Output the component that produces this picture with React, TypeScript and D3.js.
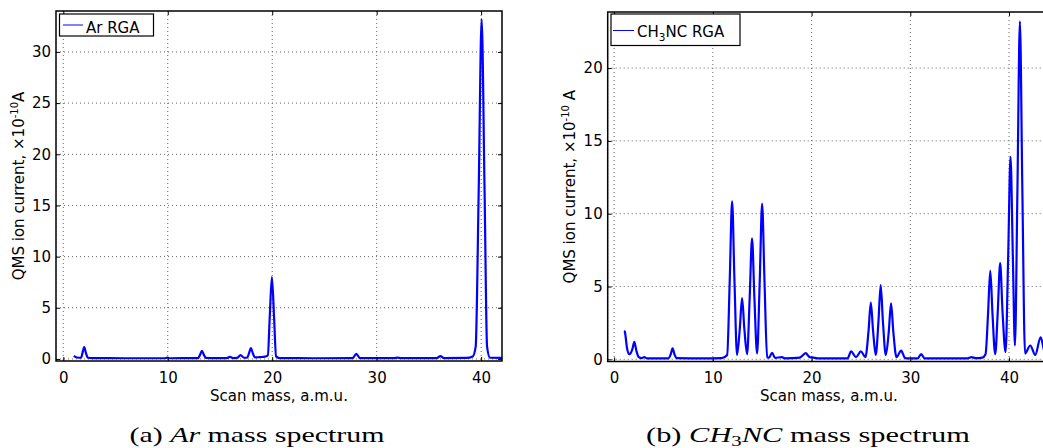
import React, { useEffect, useRef } from "react";
import * as d3 from "d3";

// [mass (a.m.u.), ion current (x1e-10 A)]
const arSpectrum = [
  [1.0, 0.3], [1.3, 0.14], [1.7, 0.12], [1.84, 0.6], [2.0, 1.15], [2.16, 0.6], [2.35, 0.12], [2.7, 0.08],
  [6.0, 0.07], [9.7, 0.07], [9.95, 0.13], [10.2, 0.07], [12.9, 0.08], [13.09, 0.4], [13.27, 0.78],
  [13.46, 0.4], [13.65, 0.1], [14.5, 0.08], [15.65, 0.08], [15.95, 0.2], [16.25, 0.09], [16.65, 0.1],
  [16.97, 0.38], [17.3, 0.12], [17.6, 0.13], [17.79, 0.6], [17.96, 1.05], [18.13, 0.6], [18.35, 0.15],
  [18.8, 0.18], [19.3, 0.22], [19.58, 0.35], [19.76, 4.0], [19.97, 8.0], [20.18, 4.0], [20.37, 0.25],
  [20.7, 0.08], [24.0, 0.07], [27.7, 0.08], [28.05, 0.5], [28.4, 0.08], [31.7, 0.08], [32.0, 0.13],
  [32.3, 0.08], [35.75, 0.08], [36.1, 0.28], [36.45, 0.08], [38.6, 0.1], [39.2, 0.25], [39.48, 1.2],
  [39.77, 16.5], [40.05, 33.2], [40.33, 16.5], [40.57, 1.2], [40.85, 0.12], [42.2, 0.1],
];

const ch3ncSpectrum = [
  [1.0, 1.95], [1.08, 1.9], [1.3, 0.8], [1.55, 0.35], [1.85, 0.7], [2.05, 1.2], [2.25, 0.6], [2.5, 0.15],
  [2.8, 0.08], [3.05, 0.15], [3.3, 0.07], [5.5, 0.07], [5.74, 0.35], [5.92, 0.75], [6.11, 0.35], [6.35, 0.08],
  [9.0, 0.06], [10.9, 0.08], [11.45, 0.3], [11.71, 5.4], [11.95, 10.85], [12.19, 5.4], [12.45, 0.3],
  [12.73, 2.1], [12.96, 4.2], [13.19, 2.1], [13.47, 0.35], [13.73, 4.2], [13.97, 8.3], [14.21, 4.2],
  [14.48, 0.4], [14.75, 5.4], [14.99, 10.7], [15.23, 5.4], [15.5, 0.15], [15.7, 0.12], [16.0, 0.45],
  [16.3, 0.1], [17.0, 0.15], [17.3, 0.07], [18.0, 0.08], [18.8, 0.12], [19.4, 0.42], [19.8, 0.15],
  [20.2, 0.12], [20.6, 0.07], [23.65, 0.07], [24.0, 0.55], [24.5, 0.15], [25.0, 0.55], [25.45, 0.15],
  [25.77, 1.95], [26.0, 3.9], [26.23, 1.95], [26.5, 0.3], [26.77, 2.55], [27.0, 5.1], [27.23, 2.55],
  [27.52, 0.3], [27.82, 1.9], [28.05, 3.85], [28.28, 1.9], [28.6, 0.15], [29.07, 0.6], [29.45, 0.1],
  [29.8, 0.06], [30.75, 0.06], [31.1, 0.35], [31.45, 0.06], [35.8, 0.07], [36.2, 0.15], [36.6, 0.08],
  [37.3, 0.12], [37.62, 0.35], [37.87, 3.05], [38.1, 6.1], [38.33, 3.05], [38.6, 0.35], [38.86, 3.3],
  [39.1, 6.6], [39.34, 3.3], [39.65, 0.5], [39.91, 6.95], [40.15, 13.9], [40.39, 6.95], [40.6, 0.95],
  [40.85, 11.6], [41.1, 23.2], [41.35, 11.6], [41.62, 0.4], [42.15, 0.95], [42.65, 0.3], [43.2, 1.5],
  [43.6, 0.5], [44.2, 0.1],
];

const massTicks = [0, 10, 20, 30, 40];
const arTicks = [0, 5, 10, 15, 20, 25, 30];
const ch3ncTicks = [0, 5, 10, 15, 20];

const SANS = "'DejaVu Sans', sans-serif";
const SERIF = "'Liberation Serif', 'DejaVu Serif', serif";
const BLUE = "#0000ff";

function drawPanel(svg, p) {
  const x = d3.scaleLinear().domain(p.xDomain).range([p.left, p.right]);
  const y = d3.scaleLinear().domain(p.yDomain).range([p.bottom, p.top]);
  const g = svg.append("g");

  g.append("clipPath")
    .attr("id", p.id)
    .append("rect")
    .attr("x", p.left)
    .attr("y", p.top)
    .attr("width", p.right - p.left)
    .attr("height", p.bottom - p.top);

  // dotted grid
  g.append("g")
    .selectAll("line")
    .data(massTicks)
    .join("line")
    .attr("x1", (d) => x(d))
    .attr("x2", (d) => x(d))
    .attr("y1", p.top)
    .attr("y2", p.bottom)
    .attr("stroke", "#666")
    .attr("stroke-dasharray", "1,3");
  g.append("g")
    .selectAll("line")
    .data(p.yTicks)
    .join("line")
    .attr("x1", p.left)
    .attr("x2", p.right)
    .attr("y1", (d) => y(d))
    .attr("y2", (d) => y(d))
    .attr("stroke", "#666")
    .attr("stroke-dasharray", "1,3");

  const line = d3
    .line()
    .x((d) => x(d[0]))
    .y((d) => y(d[1]))
    .curve(d3.curveMonotoneX);

  g.append("path")
    .attr("d", line(p.data))
    .attr("fill", "none")
    .attr("stroke", BLUE)
    .attr("stroke-width", 2.2)
    .attr("stroke-linejoin", "round")
    .attr("clip-path", `url(#${p.id})`);

  // axes, ticks pointing inward on all four sides
  const styleAxis = (a) => {
    a.select(".domain").remove();
    a.attr("font-family", SANS).attr("font-size", 15);
    a.selectAll("line").attr("stroke", "#000").attr("stroke-width", 1);
    a.selectAll("text").attr("fill", "#000");
  };
  g.append("g")
    .attr("transform", `translate(0,${p.bottom})`)
    .call(d3.axisBottom(x).tickValues(massTicks).tickSizeInner(-4).tickSizeOuter(0).tickPadding(11))
    .call(styleAxis);
  g.append("g")
    .attr("transform", `translate(0,${p.top})`)
    .call(d3.axisTop(x).tickValues(massTicks).tickSizeInner(-4).tickSizeOuter(0).tickFormat(() => ""))
    .call(styleAxis);
  g.append("g")
    .attr("transform", `translate(${p.left},0)`)
    .call(d3.axisLeft(y).tickValues(p.yTicks).tickSizeInner(-4).tickSizeOuter(0).tickPadding(5))
    .call(styleAxis);
  g.append("g")
    .attr("transform", `translate(${p.right},0)`)
    .call(d3.axisRight(y).tickValues(p.yTicks).tickSizeInner(-4).tickSizeOuter(0).tickFormat(() => ""))
    .call(styleAxis);

  g.append("rect")
    .attr("x", p.left)
    .attr("y", p.top)
    .attr("width", p.right - p.left)
    .attr("height", p.bottom - p.top)
    .attr("fill", "none")
    .attr("stroke", "#000")
    .attr("stroke-width", 1.5);

  // x label
  g.append("text")
    .attr("x", (p.left + p.right) / 2)
    .attr("y", 401)
    .attr("text-anchor", "middle")
    .attr("font-family", SANS)
    .attr("font-size", 15)
    .text("Scan mass, a.m.u.");

  // y label
  const yl = g
    .append("text")
    .attr("transform", `translate(${p.yLabelX},${(p.top + p.bottom) / 2}) rotate(-90)`)
    .attr("text-anchor", "middle")
    .attr("font-family", SANS)
    .attr("font-size", 15);
  yl.append("tspan").text("QMS ion current, \u00d710");
  yl.append("tspan").attr("dy", -6).attr("font-size", 10).text("-10");
  yl.append("tspan").attr("dy", 6).text(p.yUnit);

  return g;
}

const App = () => {
  const svgRef = useRef(null);

  useEffect(() => {
    const svg = d3.select(svgRef.current);
    svg.selectAll("*").remove();

    drawPanel(svg, {
      id: "clip-ar",
      left: 56,
      right: 502,
      top: 11,
      bottom: 361,
      xDomain: [-0.7, 42],
      yDomain: [-0.2, 34],
      yTicks: arTicks,
      data: arSpectrum,
      yLabelX: 24,
      yUnit: "A",
    });

    drawPanel(svg, {
      id: "clip-ch3nc",
      left: 607.7,
      right: 1050,
      top: 12,
      bottom: 361.5,
      xDomain: [-0.65, 44.15],
      yDomain: [-0.15, 23.85],
      yTicks: ch3ncTicks,
      data: ch3ncSpectrum,
      yLabelX: 575,
      yUnit: " A",
    });

    // legends
    svg.append("rect")
      .attr("x", 59.5).attr("y", 14).attr("width", 94).attr("height", 22)
      .attr("fill", "#fff").attr("stroke", "#000").attr("stroke-width", 1.2);
    svg.append("line")
      .attr("x1", 63).attr("x2", 83).attr("y1", 25).attr("y2", 25)
      .attr("stroke", BLUE).attr("stroke-width", 1);
    svg.append("text")
      .attr("x", 86).attr("y", 33)
      .attr("font-family", SANS).attr("font-size", 15)
      .text("Ar RGA");

    svg.append("rect")
      .attr("x", 611).attr("y", 14).attr("width", 129).attr("height", 31.5)
      .attr("fill", "#fff").attr("stroke", "#000").attr("stroke-width", 1.2);
    svg.append("line")
      .attr("x1", 613).attr("x2", 634).attr("y1", 30.5).attr("y2", 30.5)
      .attr("stroke", BLUE).attr("stroke-width", 1);
    const lt = svg.append("text")
      .attr("x", 637).attr("y", 37)
      .attr("font-family", SANS).attr("font-size", 15);
    lt.append("tspan").text("CH");
    lt.append("tspan").attr("dy", 4).attr("font-size", 10.5).text("3");
    lt.append("tspan").attr("dy", -4).text("NC RGA");

    // captions
    const ca = svg.append("text")
      .attr("x", 257).attr("y", 441.5)
      .attr("text-anchor", "middle")
      .attr("font-family", SERIF).attr("font-size", 22)
      .attr("textLength", 255).attr("lengthAdjust", "spacingAndGlyphs");
    ca.append("tspan").text("(a) ");
    ca.append("tspan").attr("font-style", "italic").text("Ar");
    ca.append("tspan").text(" mass spectrum");

    const cb = svg.append("text")
      .attr("x", 808).attr("y", 441.5)
      .attr("text-anchor", "middle")
      .attr("font-family", SERIF).attr("font-size", 22)
      .attr("textLength", 324).attr("lengthAdjust", "spacingAndGlyphs");
    cb.append("tspan").text("(b) ");
    cb.append("tspan").attr("font-style", "italic").text("CH");
    cb.append("tspan").attr("dy", 4).attr("font-size", 15).text("3");
    cb.append("tspan").attr("dy", -4).attr("font-style", "italic").text("NC");
    cb.append("tspan").text(" mass spectrum");
  }, []);

  return (
    <svg
      ref={svgRef}
      width={1043}
      height={448}
      style={{ position: "absolute", left: 0, top: 0, background: "#fff" }}
    ></svg>
  );
};

export default App;
